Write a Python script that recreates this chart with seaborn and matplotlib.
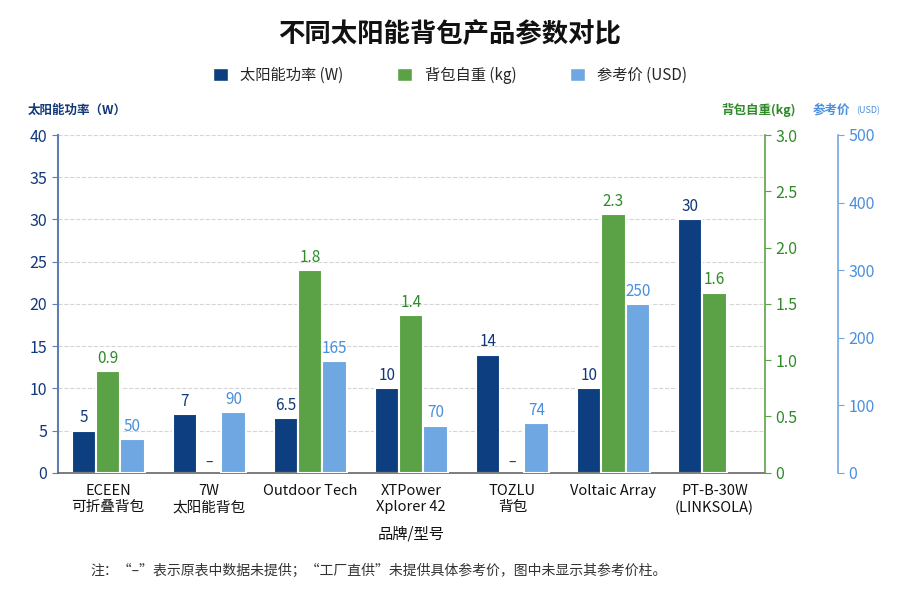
import numpy as np
import pandas as pd
import matplotlib
matplotlib.use('Agg')
import matplotlib.pyplot as plt
import seaborn as sns
from matplotlib.patches import Patch
from matplotlib.ticker import FuncFormatter

sns.set_style('white')
plt.rcParams['font.family'] = ['Noto Sans CJK SC', 'DejaVu Sans']

# 数据
products = ['ECEEN\n可折叠背包', '7W\n太阳能背包', 'Outdoor Tech', 'XTPower\nXplorer 42',
            'TOZLU\n背包', 'Voltaic Array', 'PT-B-30W\n(LINKSOLA)']
power = [5, 7, 6.5, 10, 14, 10, 30]
weight = [0.9, np.nan, 1.8, 1.4, np.nan, 2.3, 1.6]
price = [50, 90, 165, 70, 74, 250, np.nan]

metrics = ['太阳能功率 (W)', '背包自重 (kg)', '参考价 (USD)']
colors = {'太阳能功率 (W)': '#0d3f80', '背包自重 (kg)': '#5ba247', '参考价 (USD)': '#6fa7e2'}
label_colors = ['#12387a', '#2f8a2a', '#4a8fdc']

df = pd.DataFrame({'产品': products * 3,
                   '指标': [m for m in metrics for _ in products],
                   '值': power + weight + price})

fig = plt.figure(figsize=(9, 6), dpi=100)
ax = fig.add_axes([0.064, 0.212, 0.786, 0.563])
ax2 = ax.twinx()
ax3 = ax.twinx()
axes = [ax, ax2, ax3]

for a, m, lc in zip(axes, metrics, label_colors):
    sub = df[(df['指标'] == m) & df['值'].notna()]
    sns.barplot(data=sub, x='产品', y='值', hue='指标', order=products, hue_order=metrics,
                palette=colors, saturation=1, dodge=True, width=0.72, errorbar=None,
                legend=False, edgecolor='white', linewidth=1.5, ax=a)
    for c in a.containers:
        a.bar_label(c, fmt='%g', padding=3, color=lc, fontsize=11)

# 缺失数据标记
for i, w in enumerate(weight):
    if np.isnan(w):
        ax.text(i, 1.2, '–', ha='center', va='center', color='#333333', fontsize=10)

# 坐标轴
ax.set_ylim(0, 40)
ax.set_yticks(np.arange(0, 41, 5))
ax2.set_ylim(0, 3)
ax2.set_yticks(np.arange(0, 3.01, 0.5))
ax2.yaxis.set_major_formatter(FuncFormatter(lambda v, p: '0' if v == 0 else f'{v:.1f}'))
ax3.set_ylim(0, 500)
ax3.set_yticks(np.arange(0, 501, 100))
ax3.spines['right'].set_position(('axes', 1.103))

ax.set_axisbelow(True)
ax.yaxis.grid(True, linestyle='--', color='#d5d5d5', linewidth=0.8)
ax.set_xlim(-0.5, len(products) - 0.5)

for a in axes:
    a.set_ylabel('')
    a.set_xlabel('')
    for s in ['top', 'left', 'right', 'bottom']:
        a.spines[s].set_visible(False)

ax.spines['left'].set_visible(True)
ax.spines['left'].set_color('#5f7fb3')
ax.spines['left'].set_linewidth(1.5)
ax.spines['bottom'].set_visible(True)
ax.spines['bottom'].set_color('#666666')
ax.spines['bottom'].set_linewidth(1.2)
ax2.spines['right'].set_visible(True)
ax2.spines['right'].set_color('#5ba247')
ax2.spines['right'].set_linewidth(1.2)
ax3.spines['right'].set_visible(True)
ax3.spines['right'].set_color('#6fa7e2')
ax3.spines['right'].set_linewidth(1.2)

ax.tick_params(axis='y', colors='#5f7fb3', labelcolor='#12387a', labelsize=11.5, length=4)
ax2.tick_params(axis='y', colors='#5ba247', labelcolor='#2f8a2a', labelsize=11.5, length=4)
ax3.tick_params(axis='y', colors='#6fa7e2', labelcolor='#4a8fdc', labelsize=11.5, length=4)
ax.tick_params(axis='x', length=0, labelsize=10.5, labelcolor='#111111', pad=8)
ax2.tick_params(axis='x', length=0, labelbottom=False)
ax3.tick_params(axis='x', length=0, labelbottom=False)

ax.set_xlabel('品牌/型号', fontsize=11, color='#111111', labelpad=8)

# 标题、图例、轴标题
fig.text(0.5, 0.942, '不同太阳能背包产品参数对比', ha='center', va='center',
         fontsize=19, fontweight='semibold', color='#111111')
handles = [Patch(facecolor=colors[m], label=m) for m in metrics]
fig.legend(handles=handles, loc='center', bbox_to_anchor=(0.5, 0.875), ncol=3, frameon=False,
           fontsize=11, handlelength=1.0, handleheight=1.0, columnspacing=3.5, handletextpad=0.8)

fig.text(0.031, 0.817, '太阳能功率（W）', ha='left', va='center', fontsize=9,
         fontweight='semibold', color='#12387a')
fig.text(0.884, 0.817, '背包自重(kg)', ha='right', va='center', fontsize=9,
         fontweight='semibold', color='#2f8a2a')
fig.text(0.903, 0.817, '参考价', ha='left', va='center', fontsize=9,
         fontweight='semibold', color='#4a8fdc')
fig.text(0.951, 0.815, '(USD)', ha='left', va='center', fontsize=6.5, color='#4a8fdc')

fig.text(0.1, 0.048, '注：“–”表示原表中数据未提供；“工厂直供”未提供具体参考价，图中未显示其参考价柱。',
         ha='left', va='center', fontsize=10, color='#333333')

fig.savefig('out.png', dpi=100)
